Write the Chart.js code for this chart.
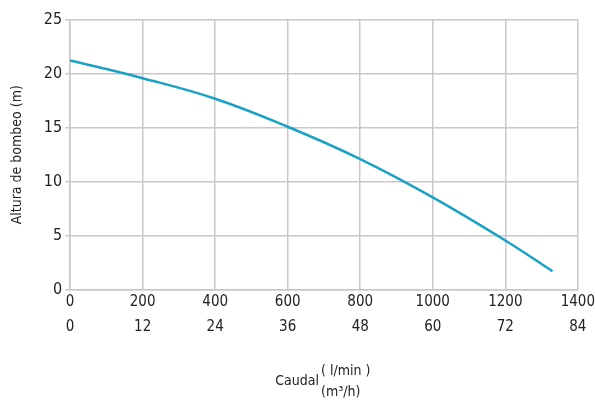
<!DOCTYPE html>
<html>
<head>
<meta charset="utf-8">
<script src="https://cdn.jsdelivr.net/npm/chart.js@4"></script>
<style>
  html, body { margin: 0; padding: 0; background: #fff; }
  #wrap { width: 595px; height: 403px; }
</style>
</head>
<body>
<div id="wrap"><canvas id="myChart" width="595" height="403"></canvas></div>
<script>
// caudal in l/min, altura in m
var caudal = [0, 200, 400, 600, 800, 1000, 1200, 1330];
var altura = [21.25, 19.6, 17.7, 15.1, 12.1, 8.55, 4.55, 1.7];

var xTicksLmin = [0, 200, 400, 600, 800, 1000, 1200, 1400];
var xTicksM3h = [0, 12, 24, 36, 48, 60, 72, 84];
var yTicks = [0, 5, 10, 15, 20, 25];

var fontFam = "'DejaVu Sans Condensed', 'Roboto', sans-serif";

var caudalTitle = {
  id: "caudalTitle",
  afterDraw: function (chart) {
    var ctx = chart.ctx;
    var area = chart.chartArea;
    var cx = (area.left + area.right) / 2;
    ctx.save();
    ctx.fillStyle = "#222";
    ctx.font = "14px " + fontFam;
    ctx.textBaseline = "middle";
    ctx.textAlign = "right";
    ctx.fillText("Caudal", cx - 5, area.bottom + 92);
    ctx.textAlign = "left";
    ctx.fillText("( l/min )", cx - 3, area.bottom + 82);
    ctx.fillText("(m³/h)", cx - 3, area.bottom + 103);
    ctx.restore();
  }
};

var points = caudal.map(function (c, i) { return { x: c, y: altura[i] }; });

var ctx = document.getElementById("myChart").getContext("2d");
var myChart = new Chart(ctx, {
  type: "line",
  data: {
    datasets: [
      {
        label: "Altura",
        data: points,
        borderColor: "#1ba1c6",
        borderWidth: 2.5,
        pointRadius: 0,
        fill: false,
        tension: 0.4
      }
    ]
  },
  options: {
    responsive: false,
    animation: false,
    layout: { padding: { top: 20, right: 0, bottom: 64, left: 9 } },
    plugins: {
      legend: { display: false },
      tooltip: { enabled: false }
    },
    scales: {
      x: {
        type: "linear",
        min: 0,
        max: 1400,
        afterBuildTicks: function (axis) {
          axis.ticks = xTicksLmin.map(function (v) { return { value: v }; });
        },
        grid: { color: "#c8c8c8", lineWidth: 1.5, drawTicks: false },
        border: { color: "#c8c8c8", width: 1.5 },
        ticks: {
          color: "#222",
          maxRotation: 0,
          autoSkip: false,
          padding: 0,
          font: { family: fontFam, size: 15, lineHeight: 1.65 },
          callback: function (v) {
            var i = xTicksLmin.indexOf(v);
            return [String(xTicksLmin[i]), String(xTicksM3h[i])];
          }
        }
      },
      y: {
        min: 0,
        max: 25,
        afterBuildTicks: function (axis) {
          axis.ticks = yTicks.map(function (v) { return { value: v }; });
        },
        grid: { color: "#c8c8c8", lineWidth: 1.5, tickLength: 5 },
        border: { color: "#c8c8c8", width: 1.5 },
        ticks: {
          color: "#222",
          padding: 3,
          font: { family: fontFam, size: 16 }
        },
        title: {
          display: true,
          text: "Altura de bombeo (m)",
          color: "#222",
          padding: { top: 0, bottom: 15 },
          font: { family: fontFam, size: 14 }
        }
      }
    }
  },
  plugins: [caudalTitle]
});
</script>
</body>
</html>
